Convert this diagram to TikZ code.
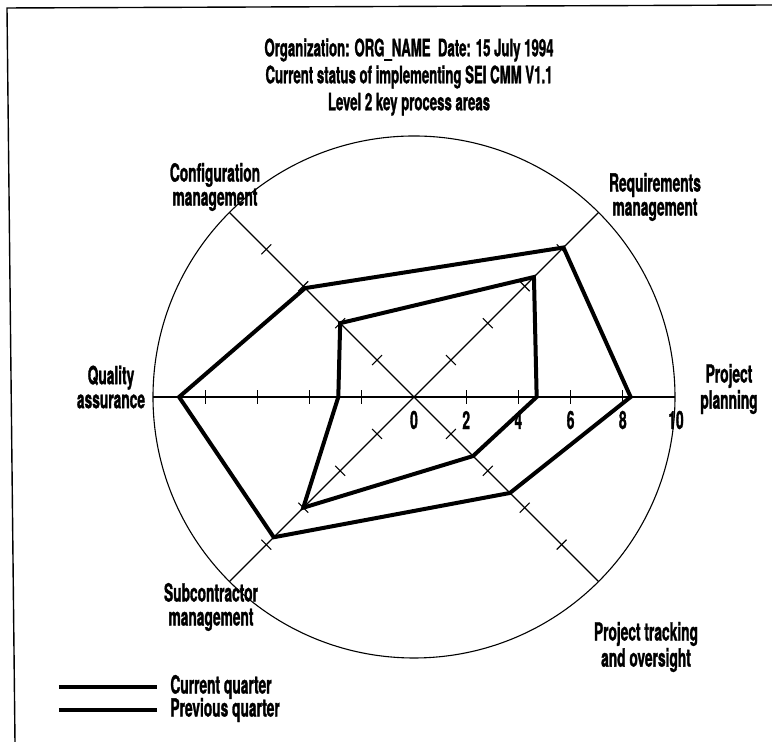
\documentclass[tikz,border=0pt]{standalone}
\usepackage{fontspec}
\setmainfont{TeX Gyre Heros}[FakeStretch=0.55, BoldFeatures={FakeBold=1.2}]
\usetikzlibrary{positioning}

\tikzset{
 axis/.style={line width=0.55pt},
 quarter/.style={line width=2pt, line join=miter},
 lbl/.style={font=\bfseries\fontsize{12.5}{12}\selectfont, align=center, inner sep=0pt},
 num/.style={font=\bfseries\fontsize{12.5}{12}\selectfont, inner sep=0pt},
}

\begin{document}
\begin{tikzpicture}[x=0.5pt, y=0.5pt]
 \useasboundingbox (-414,-345) rectangle (358,397);
 % frame
 \draw[line width=0.7pt] (-399,-345) -- (-407,389) -- (358,392);
%
 \coordinate (o) at (0,0);
 \coordinate (rim-plan) at (0:261);
 \coordinate (rim-req) at (45:261);
 \coordinate (rim-conf) at (135:261);
 \coordinate (rim-qa) at (180:261);
 \coordinate (rim-sub) at (225:261);
 \coordinate (rim-track) at (315:261);
 \draw[axis] (o) circle (261);
 \draw[axis] (rim-qa) -- (rim-plan);
 \draw[axis] (rim-sub) -- (rim-req);
 \draw[axis] (rim-conf) -- (rim-track);
 % ticks
 \begin{scope}[rotate=0]
  \draw[axis] (52.2,-7) -- (52.2,7) (104.4,-7) -- (104.4,7) (156.6,-7) -- (156.6,7) (208.8,-7) -- (208.8,7);
  \draw[axis] (-52.2,-7) -- (-52.2,7) (-104.4,-7) -- (-104.4,7) (-156.6,-7) -- (-156.6,7) (-208.8,-7) -- (-208.8,7);
 \end{scope}
 \begin{scope}[rotate=45]
  \draw[axis] (52.2,-7) -- (52.2,7) (104.4,-7) -- (104.4,7) (156.6,-7) -- (156.6,7) (208.8,-7) -- (208.8,7);
  \draw[axis] (-52.2,-7) -- (-52.2,7) (-104.4,-7) -- (-104.4,7) (-156.6,-7) -- (-156.6,7) (-208.8,-7) -- (-208.8,7);
 \end{scope}
 \begin{scope}[rotate=-45]
  \draw[axis] (52.2,-7) -- (52.2,7) (104.4,-7) -- (104.4,7) (156.6,-7) -- (156.6,7) (208.8,-7) -- (208.8,7);
  \draw[axis] (-52.2,-7) -- (-52.2,7) (-104.4,-7) -- (-104.4,7) (-156.6,-7) -- (-156.6,7) (-208.8,-7) -- (-208.8,7);
 \end{scope}
 % scale
 \node[num] (n0) at (0,-23) {0};
 \node[num] (n2) at (52.2,-23) {2};
 \node[num] (n4) at (104.4,-23) {4};
 \node[num] (n6) at (156.6,-23) {6};
 \node[num] (n8) at (208.8,-23) {8};
 \node[num] (n10) at (262,-23) {10};
%
 \coordinate (cur-plan) at (0:{8.3*26.1});
 \coordinate (cur-req) at (45:{8.1*26.1});
 \coordinate (cur-conf) at (135:{5.9*26.1});
 \coordinate (cur-qa) at (180:{9.0*26.1});
 \coordinate (cur-sub) at (225:{7.6*26.1});
 \coordinate (cur-track) at (315:{5.2*26.1});
 \draw[quarter] (cur-plan) -- (cur-req) -- (cur-conf) -- (cur-qa) -- (cur-sub) -- (cur-track) -- cycle;
%
 \coordinate (prev-plan) at (0:{4.7*26.1});
 \coordinate (prev-req) at (45:{6.5*26.1});
 \coordinate (prev-conf) at (135:{4.0*26.1});
 \coordinate (prev-qa) at (180:{2.9*26.1});
 \coordinate (prev-sub) at (225:{6.0*26.1});
 \coordinate (prev-track) at (315:{3.2*26.1});
 \draw[quarter] (prev-plan) -- (prev-req) -- (prev-conf) -- (prev-qa) -- (prev-sub) -- (prev-track) -- cycle;
%
 \node[lbl, font=\bfseries\fontsize{12}{13.5}\selectfont] (title) at (-5,320) {Organization: ORG\_NAME~~Date: 15 July 1994\\Current status of implementing SEI CMM V1.1\\Level 2 key process areas};
 \node[lbl] (l-req) at (241,200) {Requirements\\management};
 \node[lbl] (l-conf) at (-199,210) {Configuration\\management};
 \node[lbl] (l-plan) at (315,8) {Project\\planning};
 \node[lbl] (l-qa) at (-303,10) {Quality\\assurance};
 \node[lbl] (l-sub) at (-203,-210) {Subcontractor\\management};
 \node[lbl] (l-track) at (232,-250) {Project tracking\\and oversight};
%
 \coordinate (key-cur) at (-355,-290);
 \coordinate (key-prev) at (-355,-313);
 \node[lbl, anchor=west, inner xsep=6.5pt] (l-cur) at (-257,-290) {Current quarter};
 \node[lbl, anchor=west, inner xsep=6.5pt] (l-prev) at (-257,-313) {Previous quarter};
 \draw[quarter] (key-cur) -- (l-cur.west);
 \draw[quarter] (key-prev) -- (l-prev.west);
\end{tikzpicture}
\end{document}
